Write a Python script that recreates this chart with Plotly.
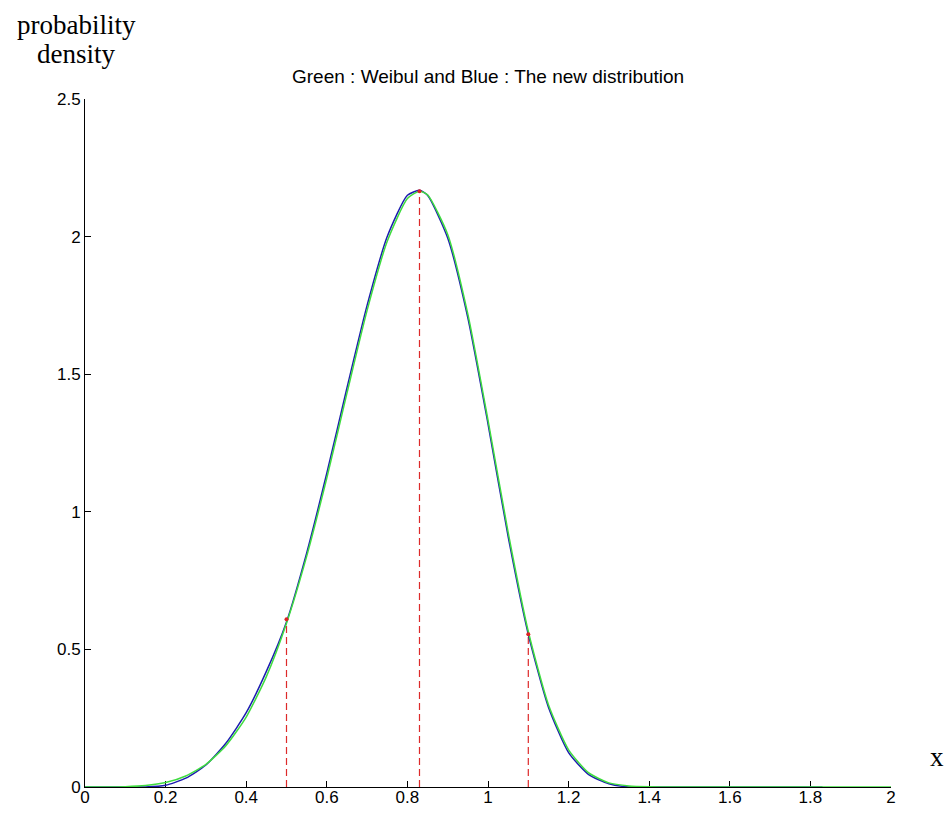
import plotly.graph_objects as go

# x grid (read at 0.05 steps)
x_vals = [0.00, 0.05, 0.10, 0.15, 0.20, 0.25, 0.30, 0.35, 0.40, 0.45,
          0.50, 0.55, 0.60, 0.65, 0.70, 0.75, 0.80, 0.83, 0.85, 0.90,
          0.95, 1.00, 1.05, 1.10, 1.15, 1.20, 1.25, 1.30, 1.35, 1.40,
          1.45, 1.50, 1.55, 1.60, 1.65, 1.70, 1.75, 1.80, 1.83, 1.85,
          1.90, 1.95, 2.00]

# Green: Weibull density
weibull_y = [0.000, 0.000, 0.001, 0.005, 0.016, 0.040, 0.082, 0.151, 0.254, 0.401,
             0.595, 0.838, 1.123, 1.431, 1.732, 1.983, 2.138, 2.165, 2.152, 2.008,
             1.718, 1.333, 0.925, 0.565, 0.299, 0.135, 0.051, 0.015, 0.004, 0.001,
             0.000, 0.000, 0.000, 0.000, 0.000, 0.000, 0.000, 0.000, 0.000, 0.000,
             0.000, 0.000, 0.000]

# Blue: the new distribution, drawn up to x = 1.83
new_x = x_vals[:39]
new_y = [0.000, 0.000, 0.000, 0.000, 0.006, 0.032, 0.080, 0.160, 0.270, 0.420,
         0.600, 0.850, 1.140, 1.450, 1.750, 2.000, 2.150, 2.168, 2.150, 1.995,
         1.705, 1.320, 0.910, 0.555, 0.290, 0.125, 0.045, 0.012, 0.000, 0.000,
         0.000, 0.000, 0.000, 0.000, 0.000, 0.000, 0.000, 0.000, 0.000]

# Marked points (red dashed drop lines)
mark_x = [0.50, 0.83, 1.10]
mark_y = [0.61, 2.165, 0.555]

x_ticks = [0, 0.2, 0.4, 0.6, 0.8, 1, 1.2, 1.4, 1.6, 1.8, 2]
x_tick_text = ["0", "0.2", "0.4", "0.6", "0.8", "1", "1.2", "1.4", "1.6", "1.8", "2"]
y_ticks = [0, 0.5, 1, 1.5, 2, 2.5]
y_tick_text = ["0", "0.5", "1", "1.5", "2", "2.5"]

fig = go.Figure()

# red dashed drop lines
for mx, my in zip(mark_x, mark_y):
    fig.add_trace(go.Scatter(x=[mx, mx], y=[0, my], mode="lines",
                             line=dict(color="#dd2a2a", width=1.2, dash="7px,4px"),
                             showlegend=False, hoverinfo="skip"))

fig.add_trace(go.Scatter(x=new_x, y=new_y, mode="lines",
                         line=dict(color="#1c1cb0", width=1.5, shape="spline", smoothing=0.6),
                         showlegend=False))
fig.add_trace(go.Scatter(x=x_vals, y=weibull_y, mode="lines",
                         line=dict(color="#3fdc3f", width=1.5, shape="spline", smoothing=0.6),
                         showlegend=False))
fig.add_trace(go.Scatter(x=mark_x, y=mark_y, mode="markers",
                         marker=dict(color="#dd2222", size=4, symbol="circle"),
                         showlegend=False))

# page body has an 8px margin: figure is drawn 8px in from the window's corner
OFF = 8
W, H = 952 - 2 * OFF, 816 - 2 * OFF
L, T = 85 - OFF, 99 - OFF
R = W - (891 - OFF)
B = H - (787 - OFF)
pw, ph = W - L - R, H - T - B

def px_to_paper(px, py):
    # px, py are window pixels of the reference
    return (px - OFF - L) / pw, 1 - (py - OFF - T) / ph

tick_font = dict(family="Liberation Sans, Arial, sans-serif", size=17, color="black")

fig.update_layout(
    width=W, height=H,
    margin=dict(l=L, r=R, t=T, b=B),
    paper_bgcolor="white", plot_bgcolor="white",
    xaxis=dict(range=[0, 2], tickvals=x_ticks, ticktext=x_tick_text,
               ticks="inside", ticklen=6, tickcolor="black", tickwidth=1,
               showline=True, linecolor="black", linewidth=1, showgrid=False,
               zeroline=False, tickfont=tick_font, layer="below traces",
               automargin=False, ticklabelstandoff=-5),
    yaxis=dict(range=[0, 2.5], tickvals=y_ticks, ticktext=y_tick_text,
               ticks="inside", ticklen=6, tickcolor="black", tickwidth=1,
               showline=True, linecolor="black", linewidth=1, showgrid=False,
               zeroline=False, tickfont=tick_font, layer="below traces",
               automargin=False),
)

serif = dict(family="Liberation Serif, Times New Roman, serif", size=27, color="black")
ax, ay = px_to_paper(76, 25)
fig.add_annotation(text="probability", xref="paper", yref="paper",
                   x=ax, y=ay, xanchor="center", yanchor="middle", showarrow=False, font=serif)
ax, ay = px_to_paper(76, 54)
fig.add_annotation(text="density", xref="paper", yref="paper",
                   x=ax, y=ay, xanchor="center", yanchor="middle", showarrow=False, font=serif)
tx, ty = px_to_paper(488, 76)
fig.add_annotation(text="Green : Weibul and Blue : The new distribution", xref="paper", yref="paper",
                   x=tx, y=ty, xanchor="center", yanchor="middle", showarrow=False,
                   font=dict(family="Liberation Sans, Arial, sans-serif", size=19, color="black"))
xx, xy = px_to_paper(937, 757)
fig.add_annotation(text="x", xref="paper", yref="paper",
                   x=xx, y=xy, xanchor="center", yanchor="middle", showarrow=False, font=serif)

fig.write_html("out.html")
